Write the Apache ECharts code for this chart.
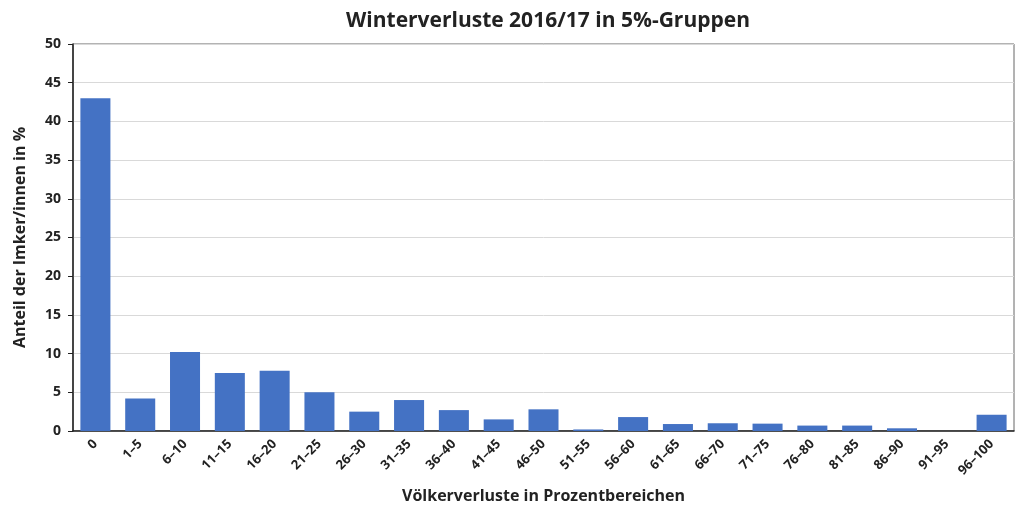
<!DOCTYPE html>
<html><head><meta charset="utf-8">
<script src="https://cdn.jsdelivr.net/npm/echarts@6/dist/echarts.min.js"></script>
<style>html,body{margin:0;padding:0;background:#fff}#c{width:1021px;height:508px}</style>
</head><body><div id="c"></div>
<script>
const categories = ['0','1–5','6–10','11–15','16–20','21–25','26–30','31–35','36–40','41–45','46–50','51–55','56–60','61–65','66–70','71–75','76–80','81–85','86–90','91–95','96–100'];
const values = [43.0,4.2,10.2,7.5,7.8,5.0,2.5,4.0,2.7,1.5,2.8,0.2,1.8,0.9,1.0,0.95,0.7,0.7,0.35,0,2.1];
const yTicks = [0,5,10,15,20,25,30,35,40,45,50];
const ff = '"Open Sans", "Noto Sans", sans-serif';
const chart = echarts.init(document.getElementById('c'));
chart.setOption({
  animation:false,
  title:{text:'Winterverluste 2016/17 in 5%-Gruppen',left:543,textAlign:'center',top:6,
    textStyle:{fontFamily:ff,fontSize:21,fontWeight:'bold',color:'#222'}},
  grid:{left:73,right:7,top:44,bottom:77,show:true,borderColor:'#666',borderWidth:1,containLabel:false,outerBoundsMode:'none'},
  xAxis:{type:'category',data:categories,
    axisLine:{lineStyle:{color:'#222',width:1.5}},axisTick:{show:false},
    axisLabel:{rotate:45,interval:0,fontFamily:ff,fontSize:13,fontWeight:'bold',color:'#222',margin:11},
    name:'Völkerverluste in Prozentbereichen',nameLocation:'middle',nameGap:57,
    nameTextStyle:{fontFamily:ff,fontSize:16,fontWeight:'bold',color:'#222'}},
  yAxis:{type:'value',min:yTicks[0],max:yTicks[yTicks.length-1],interval:5,
    axisLine:{show:true,lineStyle:{color:'#222',width:1.5}},
    axisTick:{show:true,length:5,lineStyle:{color:'#222'}},
    splitLine:{lineStyle:{color:'#d9d9d9'}},
    axisLabel:{fontFamily:ff,fontSize:14,fontWeight:'bold',color:'#222',margin:12},
    name:'Anteil der Imker/innen in %',nameLocation:'middle',nameGap:45,
    nameTextStyle:{fontFamily:ff,fontSize:16,fontWeight:'bold',color:'#222'}},
  series:[{type:'bar',data:values,barCategoryGap:'33%',
    itemStyle:{color:'#4472C4'}}]
});
</script></body></html>
